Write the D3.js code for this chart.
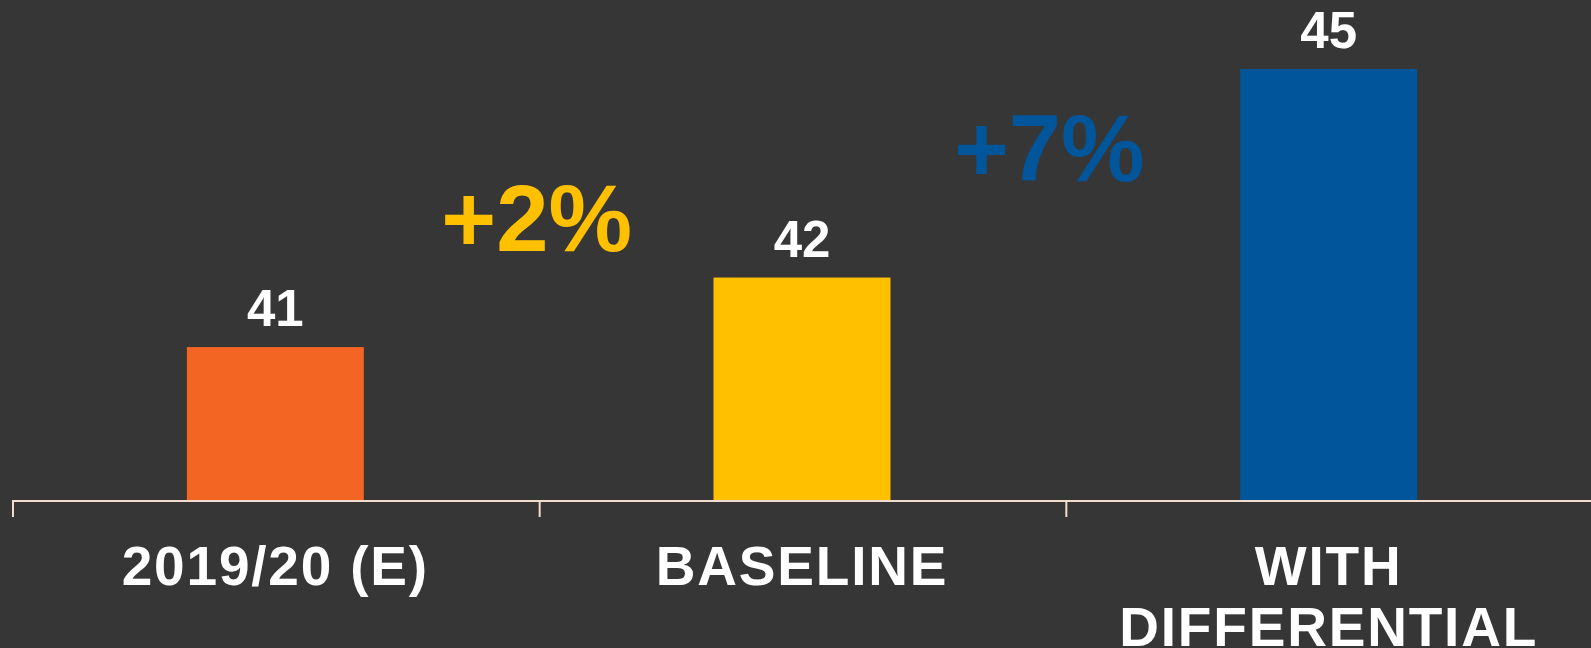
<!DOCTYPE html>
<html>
<head>
<meta charset="utf-8">
<script src="https://cdn.jsdelivr.net/npm/d3@7"></script>
<style>
  html, body { margin: 0; padding: 0; background: #363636; }
  text { font-family: "Liberation Sans", Arial, sans-serif; font-weight: bold; }
</style>
</head>
<body>
<div id="dataViz"></div>
<script>
/* chart data */
const categories = ["2019/20 (E)", "BASELINE", "WITH DIFFERENTIAL"];
const labelLines = [["2019/20 (E)"], ["BASELINE"], ["WITH", "DIFFERENTIAL"]];
const values = [41, 42, 45];
const barColors = ["#f26522", "#ffc000", "#00559b"];
const growth = ["+2%", "+7%"];
const growthColors = ["#ffc000", "#00559b"];

const width = 1591, height = 648;

const svg = d3.select("#dataViz")
  .append("svg")
  .attr("width", width)
  .attr("height", height);

svg.append("rect").attr("width", width).attr("height", height).attr("fill", "#363636");

/* scales */
const x = d3.scaleBand().domain(categories).range([12, 1592])
  .paddingInner(0.664).paddingOuter(0.332);
const xOuter = d3.scaleBand().domain(categories).range([12, 1592]).padding(0);
const y = d3.scaleLinear().domain([38.8, 45]).range([500, 69]);

/* bars */
svg.selectAll(".bar")
  .data(values)
  .enter()
  .append("rect")
  .attr("class", "bar")
  .attr("x", (d, i) => x(categories[i]))
  .attr("y", d => y(d))
  .attr("width", x.bandwidth())
  .attr("height", d => y.range()[0] - y(d))
  .attr("fill", (d, i) => barColors[i]);

/* value labels */
svg.selectAll(".val")
  .data(values)
  .enter()
  .append("text")
  .attr("class", "val")
  .attr("x", (d, i) => x(categories[i]) + x.bandwidth() / 2)
  .attr("y", d => y(d) - 21)
  .attr("text-anchor", "middle")
  .attr("fill", "#ffffff")
  .style("font-size", "51px")
  .text(d => d);

/* axis line and ticks at band edges */
const axisColor = "#f3dccd";
svg.append("line")
  .attr("x1", xOuter.range()[0]).attr("x2", width)
  .attr("y1", 501).attr("y2", 501)
  .attr("stroke", axisColor).attr("stroke-width", 2);

svg.selectAll(".tick")
  .data(categories)
  .enter()
  .append("line")
  .attr("class", "tick")
  .attr("x1", d => xOuter(d) + 1).attr("x2", d => xOuter(d) + 1)
  .attr("y1", 500).attr("y2", 517)
  .attr("stroke", axisColor).attr("stroke-width", 2);

/* category labels */
const cat = svg.selectAll(".cat")
  .data(labelLines)
  .enter()
  .append("text")
  .attr("class", "cat")
  .attr("text-anchor", "middle")
  .attr("fill", "#ffffff")
  .style("font-size", "55px")
  .style("letter-spacing", "1.8px");

cat.selectAll("tspan")
  .data((d, i) => d.map(t => ({ t: t, i: i })))
  .enter()
  .append("tspan")
  .attr("x", d => xOuter(categories[d.i]) + xOuter.bandwidth() / 2)
  .attr("y", (d, j) => 585 + j * 61)
  .text(d => d.t);

/* growth annotations between bars */
svg.selectAll(".growth")
  .data(growth)
  .enter()
  .append("text")
  .attr("class", "growth")
  .attr("x", (d, i) => xOuter(categories[i + 1]) - (i === 0 ? 2 : 16))
  .attr("y", (d, i) => i === 0 ? 251 : 181)
  .attr("text-anchor", "middle")
  .attr("fill", (d, i) => growthColors[i])
  .style("font-size", "94px")
  .text(d => d);
</script>
</body>
</html>
